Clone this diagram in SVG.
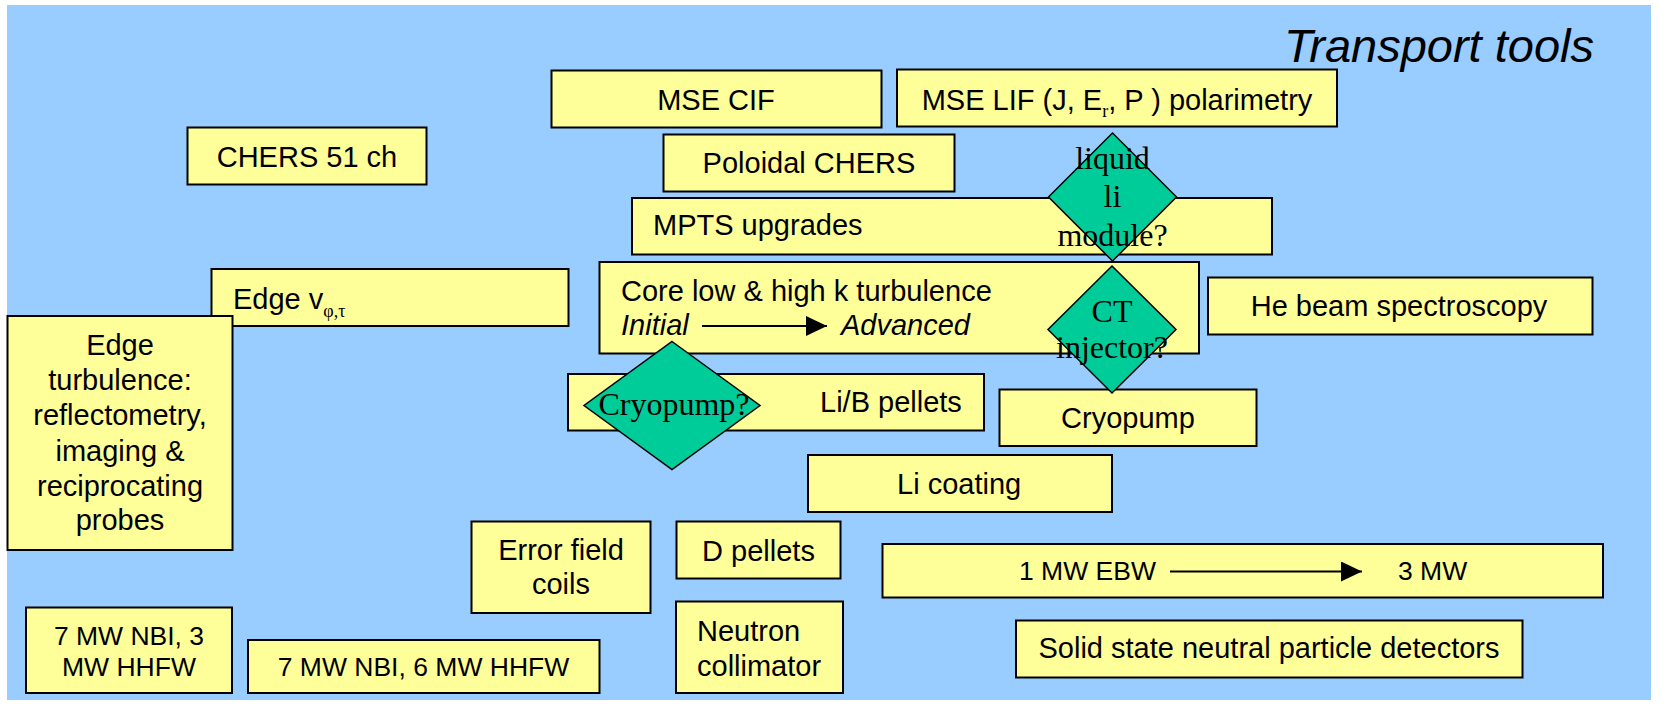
<svg xmlns="http://www.w3.org/2000/svg" width="1665" height="706" viewBox="0 0 1665 706">
<style>
.b{fill:#FFFF99;stroke:#000;stroke-width:2}
.d{fill:#00CC99;stroke:#000;stroke-width:1.5}
.t{font-family:"Liberation Sans",Arial,sans-serif;font-size:29px;fill:#000}
.n{font-size:26.5px}
.c{text-anchor:middle}
.s{font-family:"Liberation Serif","Times New Roman",serif;font-size:32px;fill:#000;text-anchor:middle}
.sub{font-family:"Liberation Serif","Times New Roman",serif;font-size:18px}
.i{font-style:italic}
</style>
<defs>
<marker id="ah" markerWidth="21" markerHeight="20" refX="21" refY="10" orient="auto" markerUnits="userSpaceOnUse" viewBox="0 0 21 20"><path d="M0,0 L21,10 L0,20 z" fill="#000"/></marker>
</defs>
<rect x="0" y="0" width="1665" height="706" fill="#fff"/>
<rect x="7" y="5" width="1644" height="695" fill="#99CCFF"/>
<text class="t i" x="1594" y="62" text-anchor="end" style="font-size:47px">Transport tools</text>

<g id="mse-cif"><rect class="b" x="551.5" y="70.5" width="330" height="57"/><text class="t c" x="716" y="110">MSE CIF</text></g>
<g id="mse-lif"><rect class="b" x="897" y="69.5" width="440" height="57"/><text class="t c" x="1117" y="110">MSE LIF (J, E<tspan class="sub" dy="7">r</tspan><tspan dy="-7">, P ) polarimetry</tspan></text></g>
<g id="chers51"><rect class="b" x="187.5" y="127.5" width="239" height="57"/><text class="t c" x="307" y="166.5">CHERS 51 ch</text></g>
<g id="poloidal-chers"><rect class="b" x="663.5" y="134.5" width="291" height="57"/><text class="t c" x="809" y="172.5">Poloidal CHERS</text></g>
<g id="mpts"><rect class="b" x="632" y="198" width="640" height="56.5"/><text class="t" x="653" y="235">MPTS upgrades</text></g>
<g id="edge-v"><rect class="b" x="211.5" y="269" width="357" height="57"/><text class="t" x="233" y="309">Edge v<tspan class="sub" dy="8">φ,τ</tspan></text></g>
<g id="core"><rect class="b" x="599.5" y="262" width="599.5" height="91.5"/><text class="t" x="621" y="300.5">Core low &amp; high k turbulence</text><text class="t i" x="621" y="335">Initial</text><text class="t i" x="841" y="335">Advanced</text></g>
<g id="he-beam"><rect class="b" x="1208" y="277.5" width="384.5" height="57"/><text class="t c" x="1399" y="316">He beam spectroscopy</text></g>
<g id="edge-turb"><rect class="b" x="7.5" y="316" width="225" height="234"/><text class="t c" x="120"><tspan x="120" y="355">Edge</tspan><tspan x="120" y="390">turbulence:</tspan><tspan x="120" y="425">reflectometry,</tspan><tspan x="120" y="460.5">imaging &amp;</tspan><tspan x="120" y="495.5">reciprocating</tspan><tspan x="120" y="530">probes</tspan></text></g>
<g id="lib-pellets"><rect class="b" x="568" y="374" width="416" height="56.5"/><text class="t" x="820" y="411.5">Li/B pellets</text></g>
<g id="cryopump"><rect class="b" x="999.5" y="389.5" width="257" height="56.5"/><text class="t c" x="1128" y="428">Cryopump</text></g>
<g id="li-coating"><rect class="b" x="808" y="455" width="304" height="57"/><text class="t" x="897" y="494">Li coating</text></g>
<g id="error-field"><rect class="b" x="471.5" y="521.5" width="179" height="91.5"/><text class="t c" x="561" y="560">Error field</text><text class="t c" x="561" y="594">coils</text></g>
<g id="d-pellets"><rect class="b" x="676.5" y="521.5" width="164" height="57"/><text class="t c" x="758.5" y="560.5">D pellets</text></g>
<g id="ebw"><rect class="b" x="882.5" y="544" width="720.5" height="53.5"/><text class="t n" x="1019" y="580">1 MW EBW</text><text class="t n" x="1398" y="580">3 MW</text></g>
<g id="nbi3"><rect class="b" x="26" y="607.5" width="206" height="85.5"/><text class="t n c" x="129" y="645">7 MW NBI, 3</text><text class="t n c" x="129" y="675.5">MW HHFW</text></g>
<g id="nbi6"><rect class="b" x="248" y="640" width="351.5" height="53"/><text class="t n c" x="423.5" y="675.5">7 MW NBI, 6 MW HHFW</text></g>
<g id="neutron"><rect class="b" x="676" y="601.5" width="167" height="91.5"/><text class="t" x="697" y="640.5">Neutron</text><text class="t" x="697" y="675.5">collimator</text></g>
<g id="solid-state"><rect class="b" x="1016" y="620.5" width="506.5" height="57"/><text class="t c" x="1269" y="658">Solid state neutral particle detectors</text></g>

<g id="liquid-li"><polygon class="d" points="1112.5,133 1176.5,197 1112.5,261 1048.5,197"/><text class="s" x="1112.5" y="169">liquid</text><text class="s" x="1112.5" y="207">li</text><text class="s" x="1112.5" y="245.5">module?</text></g>
<g id="ct-injector"><polygon class="d" points="1112,266 1176,329.5 1112,393 1048,329.5"/><text class="s" x="1112" y="321.5">CT</text><text class="s" x="1112" y="358">injector?</text></g>
<g id="cryopump-q"><polygon class="d" points="672,341.5 760,405.5 672,469.5 584,405.5"/><text class="s" x="674" y="415">Cryopump?</text></g>

<g id="connectors" stroke="#000" stroke-width="2" fill="none">
<line x1="702" y1="326" x2="827" y2="326" marker-end="url(#ah)"/>
<line x1="1170" y1="571.5" x2="1362" y2="571.5" marker-end="url(#ah)"/>
</g>
</svg>
